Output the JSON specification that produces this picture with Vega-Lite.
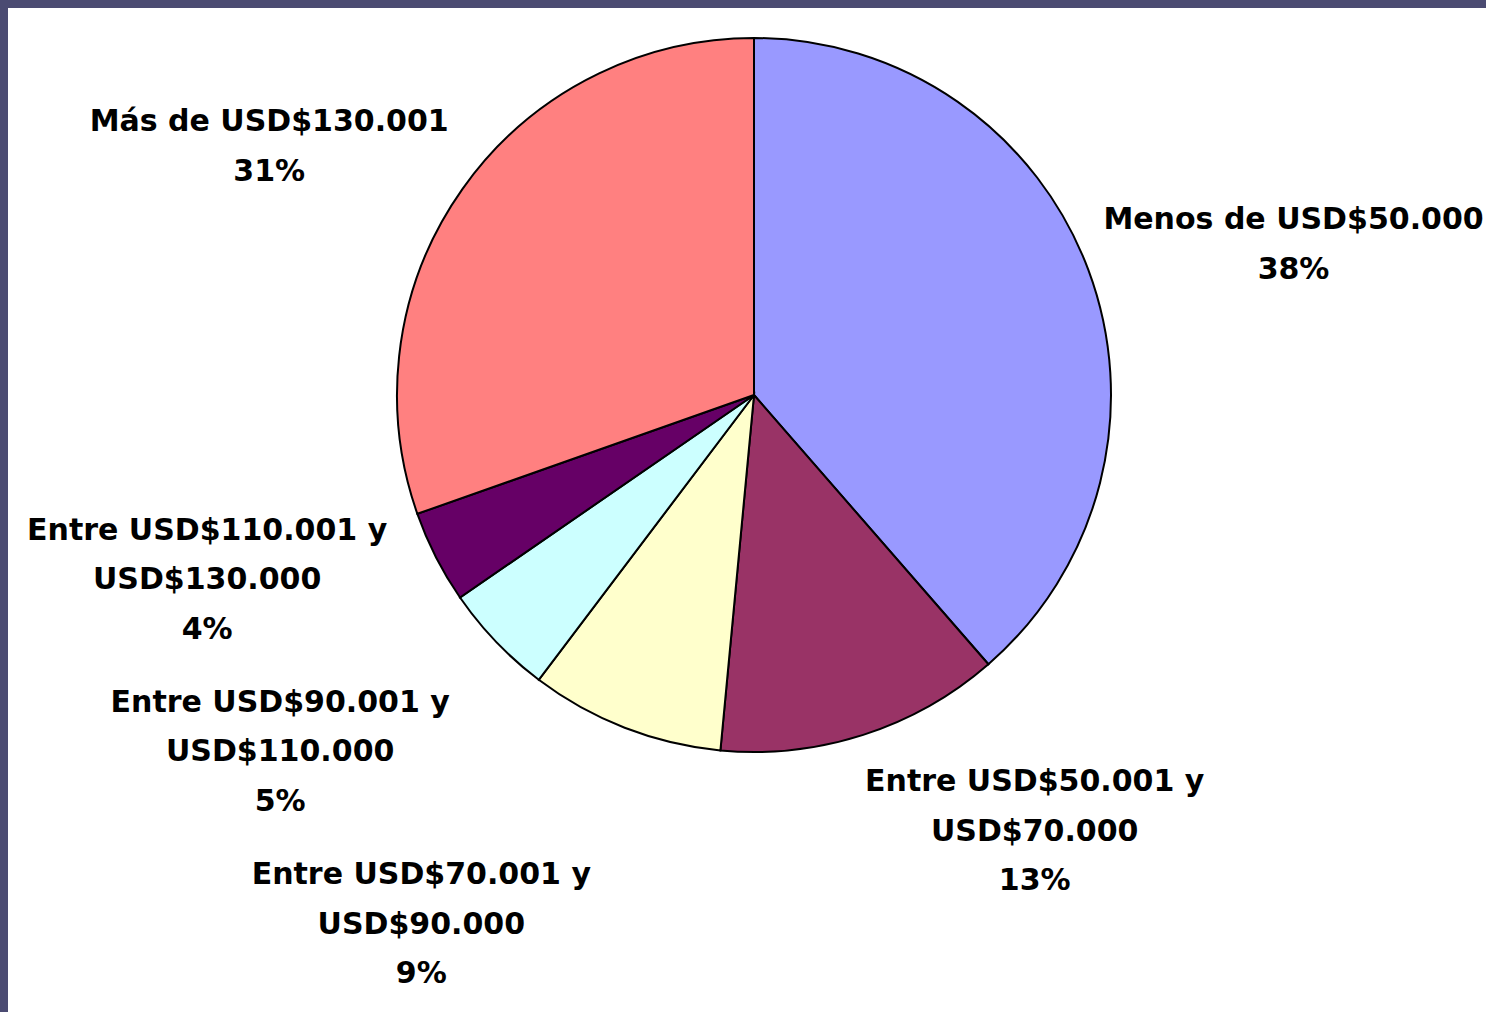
{
  "$schema": "https://vega.github.io/schema/vega-lite/v6.json",
  "width": 1478,
  "height": 1004,
  "autosize": {"type": "none"},
  "padding": {"left": 8, "top": 8, "right": 0, "bottom": 0},
  "background": "#4b4b72",
  "view": {"fill": "#ffffff", "stroke": null},
  "config": {
    "text": {"font": "DejaVu Sans", "fontWeight": "bold", "fontSize": 30, "lineHeight": 49.5, "lineBreak": "\n", "color": "#000000"}
  },
  "data": {
    "values": [
      {"rango": "Menos de USD$50.000", "etiqueta": "Menos de USD$50.000\n38%", "valor": 38.6, "orden": 1},
      {"rango": "Entre USD$50.001 y USD$70.000", "etiqueta": "Entre USD$50.001 y\nUSD$70.000\n13%", "valor": 12.9, "orden": 2},
      {"rango": "Entre USD$70.001 y USD$90.000", "etiqueta": "Entre USD$70.001 y\nUSD$90.000\n9%", "valor": 8.8, "orden": 3},
      {"rango": "Entre USD$90.001 y USD$110.000", "etiqueta": "Entre USD$90.001 y\nUSD$110.000\n5%", "valor": 5.1, "orden": 4},
      {"rango": "Entre USD$110.001 y USD$130.000", "etiqueta": "Entre USD$110.001 y\nUSD$130.000\n4%", "valor": 4.2, "orden": 5},
      {"rango": "Más de USD$130.001", "etiqueta": "Más de USD$130.001\n31%", "valor": 30.4, "orden": 6}
    ]
  },
  "encoding": {
    "x": {"datum": 0, "type": "quantitative", "scale": {"domain": [-746, 732], "nice": false, "zero": false}, "axis": null},
    "y": {"datum": 0, "type": "quantitative", "scale": {"domain": [-617, 387], "nice": false, "zero": false}, "axis": null},
    "theta": {"field": "valor", "type": "quantitative", "stack": true},
    "order": {"field": "orden", "type": "quantitative"}
  },
  "layer": [
    {
      "mark": {"type": "arc", "outerRadius": 357, "stroke": "#000000", "strokeWidth": 2},
      "encoding": {
        "color": {
          "field": "rango", "type": "nominal", "legend": null,
          "scale": {
            "domain": ["Menos de USD$50.000", "Entre USD$50.001 y USD$70.000", "Entre USD$70.001 y USD$90.000", "Entre USD$90.001 y USD$110.000", "Entre USD$110.001 y USD$130.000", "Más de USD$130.001"],
            "range": ["#9999FF", "#993366", "#FFFFCC", "#CCFFFF", "#660066", "#FF8080"]
          }
        }
      }
    },
    {
      "mark": {"type": "text", "radius": 559, "dx": 16, "dy": 21, "align": "center", "baseline": "middle"},
      "encoding": {"text": {"condition": {"test": "datum.orden === 1", "field": "etiqueta"}, "value": ""}}
    },
    {
      "mark": {"type": "text", "radius": 499, "dx": 128, "dy": -88, "align": "center", "baseline": "middle"},
      "encoding": {"text": {"condition": {"test": "datum.orden === 2", "field": "etiqueta"}, "value": ""}}
    },
    {
      "mark": {"type": "text", "radius": 612, "dx": -111, "dy": -90, "align": "center", "baseline": "middle"},
      "encoding": {"text": {"condition": {"test": "datum.orden === 3", "field": "etiqueta"}, "value": ""}}
    },
    {
      "mark": {"type": "text", "radius": 588, "dx": -49, "dy": -99, "align": "center", "baseline": "middle"},
      "encoding": {"text": {"condition": {"test": "datum.orden === 4", "field": "etiqueta"}, "value": ""}}
    },
    {
      "mark": {"type": "text", "radius": 570, "dx": -39, "dy": -123, "align": "center", "baseline": "middle"},
      "encoding": {"text": {"condition": {"test": "datum.orden === 5", "field": "etiqueta"}, "value": ""}}
    },
    {
      "mark": {"type": "text", "radius": 540, "dx": -44, "dy": 39, "align": "center", "baseline": "middle"},
      "encoding": {"text": {"condition": {"test": "datum.orden === 6", "field": "etiqueta"}, "value": ""}}
    }
  ]
}
